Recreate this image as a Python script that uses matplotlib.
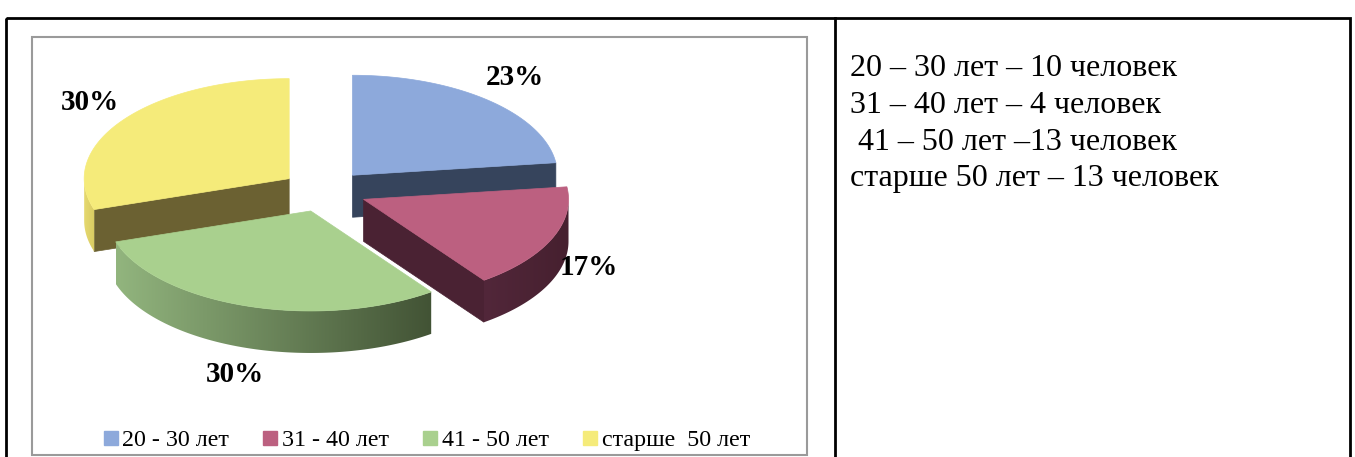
import matplotlib

matplotlib.use("Agg")

import matplotlib.pyplot as plt
import numpy as np
from matplotlib.colors import LinearSegmentedColormap
from matplotlib.patches import Polygon, Rectangle
from matplotlib.lines import Line2D

# data
categories = ["20 - 30 лет", "31 - 40 лет", "41 - 50 лет", "старше  50 лет"]
shares = [23, 17, 30, 30]
notes = [
    "20 – 30 лет – 10 человек",
    "31 – 40 лет – 4 человек",
    " 41 – 50 лет –13 человек",
    "старше 50 лет – 13 человек",
]

# colours: top face, radial cut face, rim (light, dark)
top_colors = ["#8DA9DB", "#BC6080", "#A9D08E", "#F5EB7A"]
cut_colors = ["#36445C", "#4A2233", "#4E6340", "#6B6132"]
rim_colors = [("#5E7090", "#36445C"), ("#52273A", "#46202F"),
              ("#92B57E", "#425335"), ("#E6D96F", "#D8CB62")]

# pie geometry in pixels (canvas is 1355 x 457, y downwards)
W, H = 1355, 457
CX, CY = 324, 191
RX, RY = 205, 100
DEPTH = 42
EXPLODE = 0.21

plt.rcParams["font.family"] = ["Liberation Serif", "DejaVu Serif"]

fig = plt.figure(figsize=(W / 100, H / 100), dpi=100)
ax = fig.add_axes([0, 0, 1, 1])
ax.set_xlim(0, W)
ax.set_ylim(H, 0)
ax.axis("off")


def pt(tip, ang):
    a = np.radians(ang)
    return np.column_stack([tip[0] + RX * np.cos(a), tip[1] - RY * np.sin(a)])


def face(points, color, z):
    poly = Polygon(points, closed=True, facecolor=color, edgecolor=color, linewidth=0.5, zorder=z)
    ax.add_patch(poly)
    return poly


def gradient_face(points, light, dark, z):
    poly = Polygon(points, closed=True, facecolor="none", edgecolor="none", zorder=z)
    ax.add_patch(poly)
    cmap = LinearSegmentedColormap.from_list("rim", [light, dark])
    x0, x1 = points[:, 0].min(), points[:, 0].max()
    y0, y1 = points[:, 1].min(), points[:, 1].max()
    img = ax.imshow(np.linspace(0, 1, 256)[None, :], cmap=cmap, aspect="auto",
                    extent=[x0, x1, y1, y0], zorder=z, interpolation="bilinear")
    img.set_clip_path(poly)


total = float(sum(shares))
start = 90.0
slices = []
for i, share in enumerate(shares):
    span = 360.0 * share / total
    a1, a2 = start, start - span
    mid = np.radians((a1 + a2) / 2)
    tip = (CX + EXPLODE * RX * np.cos(mid), CY - EXPLODE * RY * np.sin(mid))
    slices.append((i, a1, a2, tip, mid))
    start = a2

# back to front
for order, (i, a1, a2, tip, mid) in enumerate(sorted(slices, key=lambda s: s[3][1])):
    z = 2 + order * 3
    # radial cut faces facing the viewer
    for ang, normal in ((a1, a1 + 90), (a2, a2 - 90)):
        if np.sin(np.radians(normal)) < -1e-6:
            p = pt(tip, np.array([ang]))[0]
            quad = np.array([tip, p, p + [0, DEPTH], [tip[0], tip[1] + DEPTH]])
            face(quad, cut_colors[i], z)
    # outer rim, front half only
    angs = np.linspace(a1, a2, 300)
    front = angs[np.sin(np.radians(angs)) < 0]
    if len(front) > 1:
        arc = pt(tip, front)
        rim = np.vstack([arc, (arc + [0, DEPTH])[::-1]])
        gradient_face(rim, rim_colors[i][0], rim_colors[i][1], z + 1)
    # top face
    top = np.vstack([np.array([tip]), pt(tip, angs)])
    face(top, top_colors[i], z + 2)
    # percentage label
    s = np.sin(mid)
    lx = tip[0] + 1.2 * RX * np.cos(mid)
    ly = tip[1] - 1.3 * RY * s + (-DEPTH * s if s < 0 else 0.0)
    ax.text(lx, ly, f"{shares[i]}%", ha="center", va="center", fontsize=21,
            fontweight="bold", color="black", zorder=30)

# table borders and chart frame
ax.add_patch(Rectangle((6, 18), 1344, 460, fill=False, edgecolor="black", linewidth=2, zorder=40))
ax.plot([835, 835], [18, H], color="black", linewidth=2, zorder=40)
ax.add_patch(Rectangle((32, 37), 775, 418, fill=False, edgecolor="#9A9A9A", linewidth=1.5, zorder=40))

# legend
handles = [Line2D([], [], marker="s", linestyle="none", markersize=9.5, markerfacecolor=c,
                  markeredgecolor=c) for c in top_colors]
leg = ax.legend(handles, categories, loc="center", bbox_to_anchor=(427, 440),
                bbox_transform=ax.transData, ncol=4, frameon=False, fontsize=17.3,
                handlelength=0.55, handletextpad=0.2, columnspacing=1.45, borderpad=0)
for h in leg.legend_handles:
    h.set_zorder(50)

# notes in the right cell
for k, line in enumerate(notes):
    ax.text(850, 69 + k * 36.5, line, ha="left", va="center", fontsize=23, color="black")

plt.savefig("out.png", dpi=100)
plt.close(fig)
